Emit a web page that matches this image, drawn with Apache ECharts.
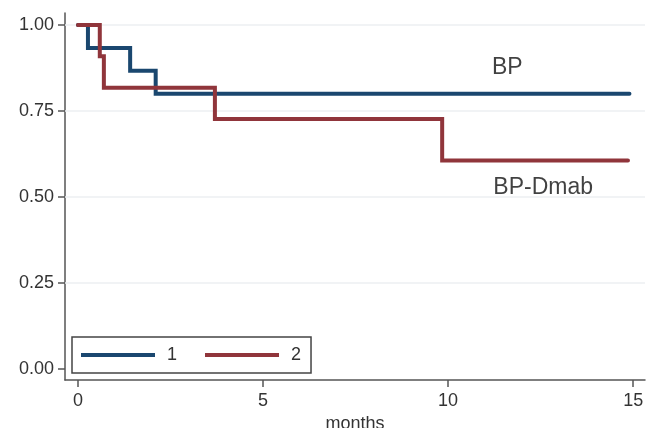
<!DOCTYPE html>
<html>
<head>
<meta charset="utf-8">
<title>Kaplan-Meier: BP vs BP-Dmab</title>
<script src="https://cdn.jsdelivr.net/npm/echarts@6/dist/echarts.min.js"></script>
<style>
  html, body { margin: 0; padding: 0; background: #fff; }
  #chart { width: 650px; height: 428px; }
</style>
</head>
<body>
<div id="chart"></div>
<script>
// Survival estimates per group (step functions)
const bpMonths = [0, 0.27, 1.41, 2.1, 14.9];
const bpSurvival = [1.0, 0.933, 0.867, 0.8, 0.8];
const dmabMonths = [0, 0.59, 0.7, 3.7, 9.84, 14.86];
const dmabSurvival = [1.0, 0.909, 0.818, 0.727, 0.606, 0.606];

const groupNames = ['1', '2'];
const xTicks = [0, 5, 10, 15];
const yTicks = [0, 0.25, 0.5, 0.75, 1.0];
const gridValues = [0.25, 0.5, 0.75, 1.0];

// Curve annotations: [month, survival, text]
const curveLabels = [
  [11.6, 0.875, 'BP'],
  [12.57, 0.526, 'BP-Dmab']
];

const NAVY = '#1a476f';
const MAROON = '#90353b';
const FONT = '"Liberation Sans", Arial, Helvetica, sans-serif';

const pair = (xs, ys) => xs.map((x, i) => [x, ys[i]]);

const chart = echarts.init(document.getElementById('chart'), null, { renderer: 'canvas' });

chart.setOption({
  animation: false,
  backgroundColor: '#ffffff',
  textStyle: { fontFamily: FONT },
  grid: { left: 65, right: 5, top: 13, bottom: 48, containLabel: false, outerBoundsMode: 'none' },
  xAxis: {
    type: 'value',
    min: -0.35,
    max: 15.32,
    name: 'months',
    nameLocation: 'middle',
    nameGap: 30,
    nameTextStyle: { fontSize: 18, color: '#333', fontFamily: FONT },
    axisLine: { show: true, onZero: false, lineStyle: { color: '#555', width: 1.5 } },
    axisTick: { show: true, length: 7, lineStyle: { color: '#555', width: 1.5 }, customValues: xTicks },
    axisLabel: { fontSize: 18, color: '#333', margin: 12, customValues: xTicks, formatter: v => String(v) },
    splitLine: { show: false }
  },
  yAxis: {
    type: 'value',
    min: -0.032,
    max: 1.035,
    axisLine: { show: true, onZero: false, lineStyle: { color: '#555', width: 1.5 } },
    axisTick: { show: true, length: 7, lineStyle: { color: '#555', width: 1.5 }, customValues: yTicks },
    axisLabel: { fontSize: 18, color: '#333', margin: 11, customValues: yTicks, formatter: v => v.toFixed(2) },
    splitLine: { show: false }
  },
  legend: {
    data: groupNames,
    left: 72,
    top: 337,
    orient: 'horizontal',
    backgroundColor: '#ffffff',
    borderColor: '#444',
    borderWidth: 1.5,
    borderRadius: 0,
    padding: [9, 10, 9, 9],
    itemGap: 28,
    itemWidth: 74,
    itemHeight: 4,
    icon: 'rect',
    selectedMode: false,
    textStyle: { fontSize: 18, color: '#333', fontFamily: FONT, padding: [0, 0, 0, 7] }
  },
  series: [
    {
      // light horizontal reference lines, kept beneath the curves
      type: 'line',
      data: [],
      silent: true,
      z: 1,
      markLine: {
        silent: true,
        z: 1,
        symbol: ['none', 'none'],
        label: { show: false },
        lineStyle: { color: '#eceff2', width: 1.5, type: 'solid' },
        data: gridValues.map(v => ({ yAxis: v }))
      }
    },
    {
      name: groupNames[0],
      type: 'line',
      step: 'end',
      data: pair(bpMonths, bpSurvival),
      showSymbol: false,
      symbol: 'none',
      itemStyle: { color: NAVY },
      lineStyle: { color: NAVY, width: 4, cap: 'round', join: 'miter' },
      z: 3
    },
    {
      name: groupNames[1],
      type: 'line',
      step: 'end',
      data: pair(dmabMonths, dmabSurvival),
      showSymbol: false,
      symbol: 'none',
      itemStyle: { color: MAROON },
      lineStyle: { color: MAROON, width: 4, cap: 'round', join: 'miter' },
      z: 3
    },
    {
      type: 'scatter',
      data: curveLabels.map(d => ({ value: [d[0], d[1]], name: d[2] })),
      symbolSize: 0,
      silent: true,
      z: 5,
      label: {
        show: true,
        position: 'inside',
        formatter: p => p.name,
        fontSize: 23,
        color: '#111',
        fontFamily: FONT
      }
    }
  ]
});
</script>
</body>
</html>
